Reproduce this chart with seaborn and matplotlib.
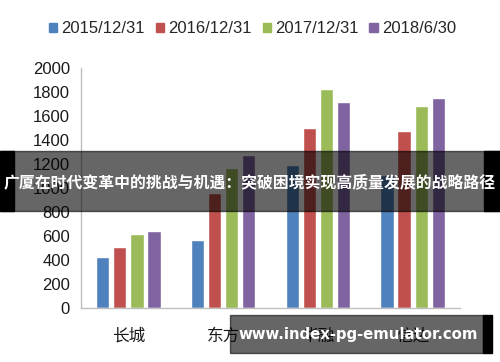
import matplotlib
matplotlib.use("Agg")
import matplotlib.pyplot as plt
import matplotlib.patches as mpatches
import seaborn as sns
import pandas as pd
import numpy as np

categories = ["长城", "东方", "华融", "信达"]
series_names = ["2015/12/31", "2016/12/31", "2017/12/31", "2018/6/30"]
v2015 = [422, 567, 1188, 1108]
v2016 = [505, 956, 1500, 1478]
v2017 = [614, 1169, 1828, 1683]
v2018 = [639, 1278, 1717, 1750]
colors = ["#4F81BD", "#C0504D", "#9BBB59", "#8064A2"]
yticks = [0, 200, 400, 600, 800, 1000, 1200, 1400, 1600, 1800, 2000]
banner_text = "广厦在时代变革中的挑战与机遇：突破困境实现高质量发展的战略路径"
watermark_text = "www.index-pg-emulator.com"

rows = []
for name, vals in zip(series_names, [v2015, v2016, v2017, v2018]):
    for c, v in zip(categories, vals):
        rows.append({"cat": c, "series": name, "value": v})
df = pd.DataFrame(rows)

sns.set_theme(style="white")
plt.rcParams["font.family"] = ["Liberation Sans", "Noto Sans CJK SC", "DejaVu Sans"]

fig = plt.figure(figsize=(5.0, 3.62), dpi=100)
ax = fig.add_axes([0.162, 0.149, 0.758, 0.663])

sns.barplot(data=df, x="cat", y="value", hue="series", order=categories,
            hue_order=series_names, palette=colors, width=0.72, gap=0.22,
            saturation=1, ax=ax, legend=False, errorbar=None)

ax.set_ylim(0, 2000)
ax.set_xlim(-0.5, 3.5)
ax.set_yticks(yticks)
ax.set_yticklabels([str(t) for t in yticks], fontsize=12, color="#1a1a1a")
ax.set_xticks(range(4))
ax.set_xticklabels(categories, fontsize=12, color="#1a1a1a",
                   family=["Noto Sans CJK SC", "DejaVu Sans"])
ax.set_xticks(np.arange(-0.5, 4.0, 1.0), minor=True)
ax.tick_params(axis="x", which="major", length=0, pad=14)
ax.tick_params(axis="x", which="minor", length=4, color="#bfbfbf", direction="out")
ax.tick_params(axis="y", which="major", length=4, color="#bfbfbf", direction="out", pad=4)
ax.set_xlabel("")
ax.set_ylabel("")
for s in ["top", "right"]:
    ax.spines[s].set_visible(False)
for s in ["left", "bottom"]:
    ax.spines[s].set_color("#bfbfbf")
    ax.spines[s].set_linewidth(1.0)

handles = [mpatches.Patch(color=c, label=n) for c, n in zip(colors, series_names)]
fig.legend(handles=handles, loc="center", bbox_to_anchor=(0.505, 0.92), ncol=4,
           frameon=False, fontsize=12, handlelength=0.5, handleheight=0.5,
           handletextpad=0.25, columnspacing=0.65, borderaxespad=0)

# banner overlay
H = 362.0
W = 500.0
fig.patches.append(mpatches.Rectangle((0, (H - 211) / H), 1, 60 / H,
                                      transform=fig.transFigure, color="#000000",
                                      alpha=0.6, zorder=10))
fig.patches.append(mpatches.Rectangle((0, (H - 211) / H), 14 / W, 60 / H,
                                      transform=fig.transFigure, color="#000000",
                                      alpha=1.0, zorder=11))
fig.patches.append(mpatches.Rectangle((484 / W, (H - 211) / H), 16 / W, 60 / H,
                                      transform=fig.transFigure, color="#000000",
                                      alpha=1.0, zorder=11))
fig.text(0.5, (H - 182) / H, banner_text, ha="center", va="center", color="white",
         fontsize=11.4, fontweight="bold", family=["Noto Sans CJK SC", "DejaVu Sans"],
         zorder=12)

# watermark overlay
fig.patches.append(mpatches.Rectangle((230 / W, (H - 353) / H), 253 / W, 38 / H,
                                      transform=fig.transFigure, color="#000000",
                                      alpha=0.6, zorder=10))
fig.patches.append(mpatches.Rectangle((483 / W, (H - 353) / H), 9 / W, 38 / H,
                                      transform=fig.transFigure, color="#000000",
                                      alpha=1.0, zorder=11))
fig.text(358.5 / W, (H - 334) / H, watermark_text, ha="center", va="center", color="white",
         fontsize=10.7, fontweight="bold", family=["DejaVu Sans"], zorder=12)

fig.savefig("out.png", dpi=100)
